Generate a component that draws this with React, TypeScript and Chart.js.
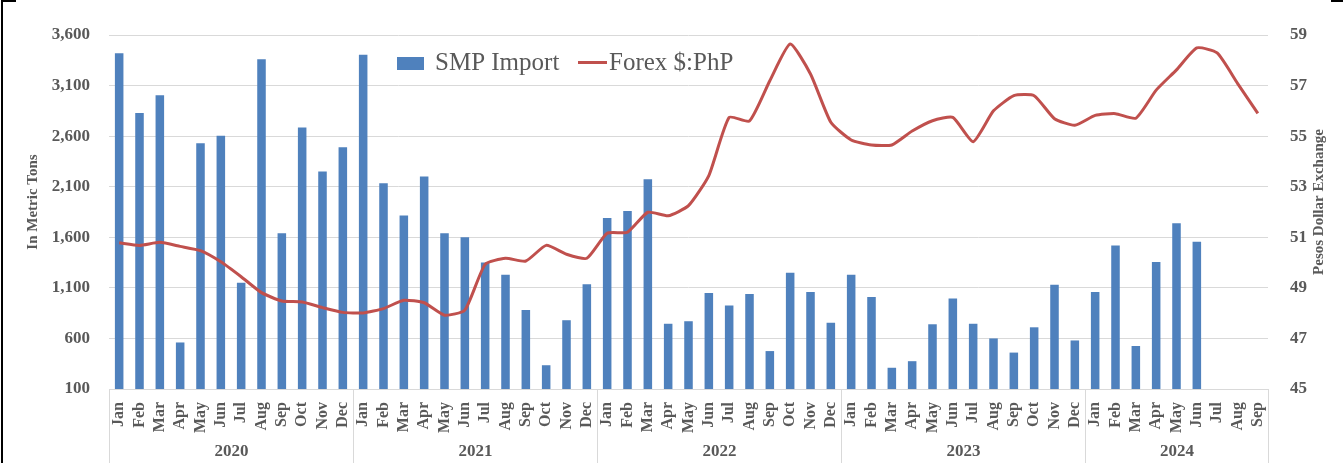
import React, { useEffect, useRef } from 'react';
import { Chart, registerables } from 'chart.js';

Chart.register(...registerables);

const monthNames = ['Jan', 'Feb', 'Mar', 'Apr', 'May', 'Jun', 'Jul', 'Aug', 'Sep', 'Oct', 'Nov', 'Dec'];
const years = ['2020', '2021', '2022', '2023', '2024'];
const monthsPerYear = [12, 12, 12, 12, 9];
const categories = years.flatMap((_, i) => monthNames.slice(0, monthsPerYear[i]));

const smpImport = [
  3420, 2830, 3005, 560, 2530, 2605, 1150, 3360, 1640, 2685, 2250, 2490,
  3405, 2135, 1815, 2200, 1640, 1600, 1350, 1230, 880, 335, 780, 1135,
  1790, 1860, 2175, 745, 770, 1050, 925, 1040, 475, 1250, 1060, 755,
  1230, 1010, 310, 375, 740, 995, 745, 600, 460, 710, 1130, 580,
  1060, 1520, 525, 1355, 1740, 1555, null, null, null,
];

const forex = [
  50.78, 50.68, 50.8, 50.64, 50.47, 50.03, 49.44, 48.81, 48.48, 48.44, 48.22, 48.03,
  48.01, 48.18, 48.51, 48.41, 47.92, 48.12, 49.93, 50.17, 50.06, 50.68, 50.33, 50.17,
  51.16, 51.2, 51.99, 51.85, 52.25, 53.44, 55.74, 55.6, 57.19, 58.64, 57.46, 55.55,
  54.85, 54.65, 54.65, 55.2, 55.61, 55.74, 54.78, 56.0, 56.6, 56.6, 55.69, 55.43,
  55.82, 55.89, 55.71, 56.82, 57.62, 58.49, 58.29, 57.09, 55.9,
];

const leftAxis = { min: 100, max: 3600, step: 500 };
const rightAxis = { min: 45, max: 59, step: 2 };
const seriesLabels = ['SMP Import', 'Forex $:PhP'];
const axisTitles = ['In Metric Tons', 'Pesos Dollar Exchange'];

const BLUE = '#4F81BD';
const RED = '#C0504D';
const TEXT = '#595959';
const GRID = '#D9D9D9';
const FONT = "'Liberation Serif', 'Times New Roman', serif";

const decorPlugin = {
  id: 'decor',
  afterDraw(chart: any) {
    const { ctx, chartArea, scales } = chart;
    const x = scales.x;
    const n = categories.length;
    const w = (chartArea.right - chartArea.left) / n;
    const H = chart.height;
    ctx.save();
    ctx.strokeStyle = GRID;
    ctx.lineWidth = 1;
    let start = 0;
    const bounds: number[] = [];
    for (let i = 0; i <= years.length; i++) {
      const idx = i === years.length ? n : start;
      const px = Math.round(x.getPixelForValue(Math.min(idx, n - 1)) + (idx === n ? w / 2 : -w / 2)) + 0.5;
      bounds.push(px);
      ctx.beginPath();
      ctx.moveTo(px, chartArea.bottom);
      ctx.lineTo(px, H);
      ctx.stroke();
      if (i < years.length) start += monthsPerYear[i];
    }
    ctx.fillStyle = TEXT;
    ctx.font = `bold 17px ${FONT}`;
    ctx.textAlign = 'center';
    ctx.textBaseline = 'middle';
    years.forEach((y, i) => {
      ctx.fillText(y, (bounds[i] + bounds[i + 1]) / 2, 452);
    });
    ctx.font = `bold 15px ${FONT}`;
    ctx.save();
    ctx.translate(33, 202);
    ctx.rotate(-Math.PI / 2);
    ctx.fillText(axisTitles[0], 0, 0);
    ctx.restore();
    ctx.save();
    ctx.translate(1319, 202);
    ctx.rotate(-Math.PI / 2);
    ctx.fillText(axisTitles[1], 0, 0);
    ctx.restore();
    ctx.fillStyle = BLUE;
    ctx.fillRect(397, 57, 27, 13);
    ctx.fillStyle = TEXT;
    ctx.font = `25px ${FONT}`;
    ctx.textAlign = 'left';
    ctx.textBaseline = 'alphabetic';
    ctx.fillText(seriesLabels[0], 435, 70);
    ctx.strokeStyle = RED;
    ctx.lineWidth = 3;
    ctx.beginPath();
    ctx.moveTo(578, 62.5);
    ctx.lineTo(607, 62.5);
    ctx.stroke();
    ctx.fillText(seriesLabels[1], 609, 70);
    ctx.restore();
  },
};

export default function App() {
  const ref = useRef<HTMLCanvasElement | null>(null);
  useEffect(() => {
    document.body.style.margin = '0';
    if (!ref.current) return;
    Chart.defaults.font.family = FONT;
    const chart = new Chart(ref.current, {
      type: 'bar',
      data: {
        labels: categories,
        datasets: [
          {
            type: 'line',
            label: seriesLabels[1],
            data: forex,
            yAxisID: 'y1',
            borderColor: RED,
            backgroundColor: RED,
            borderWidth: 3,
            pointRadius: 0,
            tension: 0.18,
            order: 0,
          } as any,
          {
            type: 'bar',
            label: seriesLabels[0],
            data: smpImport,
            yAxisID: 'y',
            backgroundColor: BLUE,
            barPercentage: 0.42,
            categoryPercentage: 1,
            order: 1,
          },
        ],
      },
      options: {
        responsive: false,
        animation: false,
        layout: { padding: { top: 35, left: 0, right: 0, bottom: 0 } },
        plugins: { legend: { display: false }, tooltip: { enabled: false } },
        scales: {
          x: {
            offset: true,
            grid: { display: false },
            border: { display: true, color: GRID },
            ticks: {
              autoSkip: false,
              maxRotation: 90,
              minRotation: 90,
              padding: 5,
              color: TEXT,
              font: { size: 16, weight: 'bold' },
            },
            afterFit(scale: any) {
              scale.height = 74;
            },
          },
          y: {
            position: 'left',
            min: leftAxis.min,
            max: leftAxis.max,
            grid: { color: GRID, drawTicks: false },
            border: { display: false },
            ticks: {
              stepSize: leftAxis.step,
              padding: 19,
              color: TEXT,
              font: { size: 17, weight: 'bold' },
              callback: (v: any) => Number(v).toLocaleString('en-US'),
            },
            afterFit(scale: any) {
              scale.width = 109;
            },
          },
          y1: {
            position: 'right',
            min: rightAxis.min,
            max: rightAxis.max,
            grid: { display: false, drawOnChartArea: false },
            border: { display: false },
            ticks: {
              stepSize: rightAxis.step,
              padding: 14,
              color: TEXT,
              font: { size: 17, weight: 'bold' },
            },
            afterFit(scale: any) {
              scale.width = 75;
            },
          },
        },
      },
      plugins: [decorPlugin],
    } as any);
    return () => chart.destroy();
  }, []);

  return (
    <div style={{ position: 'relative', width: 1343, height: 463, background: '#fff' }}>
      <canvas ref={ref} width={1343} height={463} style={{ display: 'block' }} />
      <div style={{ position: 'absolute', left: 1, top: 0, width: 2, height: 463, background: '#000' }} />
      <div style={{ position: 'absolute', left: 1, top: 0, width: 15, height: 2, background: '#000' }} />
      <div style={{ position: 'absolute', left: 1331, top: 0, width: 12, height: 2, background: '#000' }} />
    </div>
  );
}
